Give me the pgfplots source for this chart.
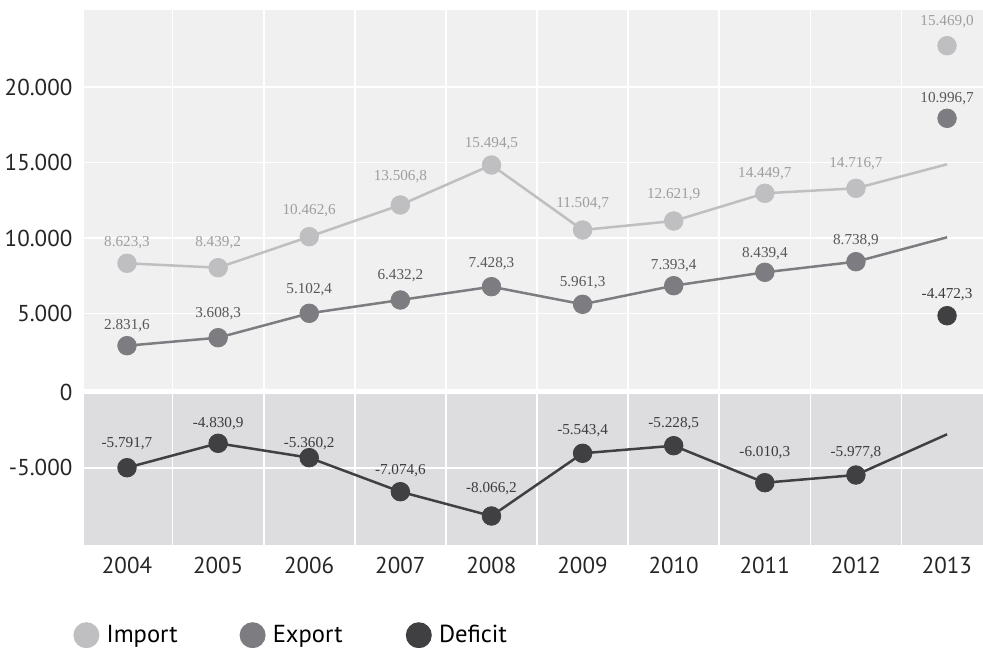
\documentclass[border=0pt]{standalone}
\usepackage{fontspec}
\setmainfont{PT Sans}
\newfontfamily\labfont{Liberation Serif}
\usepackage{pgfplots}
\usepackage{pgfplotstable}
\pgfplotsset{compat=1.18}

\definecolor{cImp}{RGB}{191,191,193}
\definecolor{cExp}{RGB}{125,125,129}
\definecolor{cDef}{RGB}{64,64,66}
\definecolor{lImp}{RGB}{158,158,160}
\definecolor{lExp}{RGB}{88,88,90}
\definecolor{lDef}{RGB}{60,60,62}
\definecolor{bgUp}{RGB}{240,240,240}
\definecolor{bgLo}{RGB}{221,221,223}

% line series (2004-2013)
\pgfplotstableread{
x y
2004 8325
2005 8033
2006 10086
2007 12185
2008 14834
2009 10530
2010 11126
2011 12960
2012 13291
2013 14881
}\impline
\pgfplotstableread{
x y
2004 2868
2005 3397
2006 5013
2007 5894
2008 6775
2009 5609
2010 6841
2011 7728
2012 8430
2013 10046
}\expline
\pgfplotstableread{
x y
2004 -5000
2005 -3373
2006 -4333
2007 -6600
2008 -8220
2009 -4040
2010 -3533
2011 -6000
2012 -5487
2013 -2773
}\defline

% marked points with labels (dy = label offset in px)
\pgfplotstableread{
x y lab dy
2004 8325 {8.623,3} 22.6
2005 8033 {8.439,2} 27
2006 10086 {10.462,6} 27.4
2007 12185 {13.506,8} 30
2008 14834 {15.494,5} 23
2009 10530 {11.504,7} 28.3
2010 11126 {12.621,9} 28
2011 12960 {14.449,7} 21.6
2012 13291 {14.716,7} 26.6
2013 22735 {15.469,0} 25.7
}\impdots
\pgfplotstableread{
x y lab dy
2004 2868 {2.831,6} 21.7
2005 3397 {3.608,3} 26
2006 5013 {5.102,4} 25
2007 5894 {6.432,2} 26
2008 6775 {7.428,3} 24.4
2009 5609 {5.961,3} 23.3
2010 6841 {7.393,4} 21.4
2011 7728 {8.439,4} 20
2012 8430 {8.738,9} 22.7
2013 17927 {10.996,7} 21
}\expdots
\pgfplotstableread{
x y lab dy
2004 -5000 {-5.791,7} 26
2005 -3373 {-4.830,9} 21.6
2006 -4333 {-5.360,2} 16
2007 -6600 {-7.074,6} 22.7
2008 -8220 {-8.066,2} 28.7
2009 -4040 {-5.543,4} 24.3
2010 -3533 {-5.228,5} 23.4
2011 -6000 {-6.010,3} 31.7
2012 -5487 {-5.977,8} 24
}\defdots
\pgfplotstableread{
x y lab dy
2013 4854 {-4.472,3} 23
}\defdotup

\pgfplotsset{
  panel/.style={
    scale only axis, anchor=south west, width=449.5pt,
    xmin=2003.528, xmax=2013.395,
    scaled y ticks=false,
    axis line style={draw=none},
    major tick length=0pt, minor tick length=0pt,
    xtick={2004,...,2013},
    minor xtick={2004.5,2005.5,...,2012.5},
    xmajorgrids=false, xminorgrids=true, ymajorgrids=true,
    major grid style={white, line width=0.85pt},
    minor grid style={white, line width=0.85pt},
    yticklabel style={font=\fontsize{11.5}{13}\selectfont, text=black!85, xshift=-2.3pt},
    xticklabel style={font=\fontsize{11.5}{13}\selectfont, text=black!85},
    clip=false,
  },
  serline/.style={no marks, line width=1.25pt, color=#1},
  dots/.style 2 args={only marks, mark=*, mark size=4.65pt, color=#1,
    mark options={draw=none, fill=#1},
    nodes near coords, point meta=explicit symbolic,
    visualization depends on={\thisrow{dy} \as \dy},
    nodes near coords style={anchor=base, yshift={\dy*0.5pt-2.7pt},
      font=\labfont\fontsize{7.6}{8}\selectfont, text=#2, inner sep=0pt},
  },
}

\begin{document}
\begin{tikzpicture}
\useasboundingbox (0pt,0pt) rectangle (491.5pt,323.5pt);

\begin{axis}[panel, at={(42pt,129pt)}, height=189.5pt,
  ymin=0, ymax=25099,
  axis background/.style={fill=bgUp},
  xticklabels={},
  ytick={5000,10000,15000,20000},
  yticklabels={5.000,10.000,15.000,20.000},
]
\addplot[serline=cImp] table[x=x,y=y] {\impline};
\addplot[serline=cExp] table[x=x,y=y] {\expline};
\addplot[dots={cImp}{lImp}] table[x=x,y=y,meta=lab] {\impdots};
\addplot[dots={cExp}{lExp}] table[x=x,y=y,meta=lab] {\expdots};
\addplot[dots={cDef}{lDef}] table[x=x,y=y,meta=lab] {\defdotup};
\end{axis}

\begin{axis}[panel, at={(42pt,51pt)}, height=76.15pt,
  ymin=-10153, ymax=0,
  axis background/.style={fill=bgLo},
  xticklabels={2004,2005,2006,2007,2008,2009,2010,2011,2012,2013},
  xticklabel style={yshift=-2.4pt},
  ytick={-5000,0},
  yticklabels={-5.000,0},
  legend columns=3,
  legend image code/.code={\fill[#1,draw=none] (6.25pt,0pt) circle (6.5pt);},
  legend style={at={(axis description cs:0,0)}, anchor=north west,
    xshift=-5.5pt, yshift=-37.8pt, draw=none, fill=none, inner sep=0pt,
    font=\fontsize{12.3}{14}\selectfont, cells={anchor=west},
    /tikz/every odd column/.append style={column sep=1.6pt},
    /tikz/every even column/.append style={column sep=0pt}},
]
\addplot[serline=cDef, forget plot] table[x=x,y=y] {\defline};
\addplot[dots={cDef}{lDef}, forget plot] table[x=x,y=y,meta=lab] {\defdots};
\addlegendimage{cImp}
\addlegendentry{\makebox[64.5pt][l]{Import}}
\addlegendimage{cExp}
\addlegendentry{\makebox[64.5pt][l]{Export}}
\addlegendimage{cDef}
\addlegendentry{Deficit}
\end{axis}
\end{tikzpicture}
\end{document}
